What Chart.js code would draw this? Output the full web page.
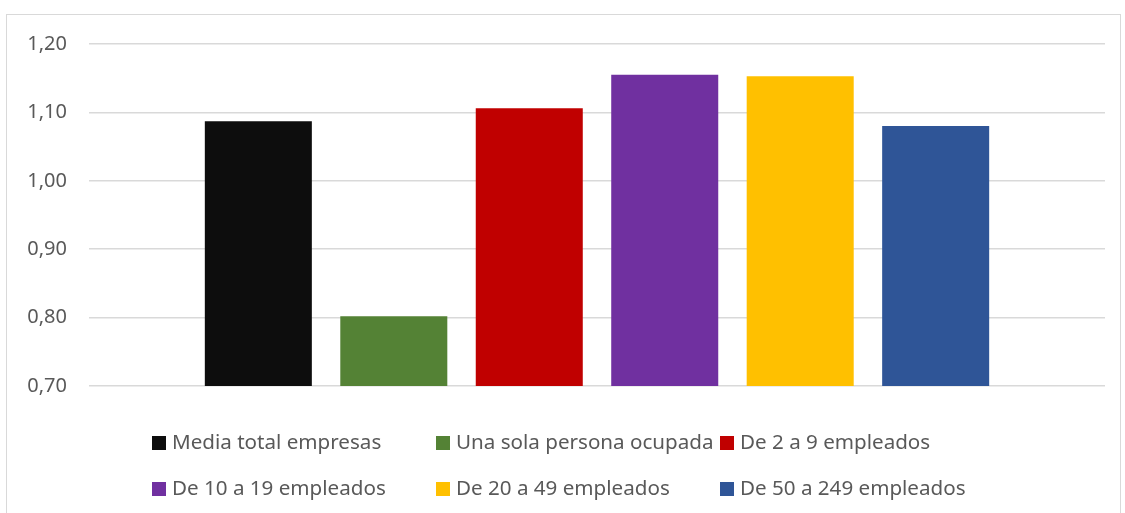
<!DOCTYPE html>
<html>
<head>
<meta charset="utf-8">
<script src="https://cdn.jsdelivr.net/npm/chart.js@4.4.1/dist/chart.umd.min.js"></script>
<style>
    html, body { margin: 0; padding: 0; background: #fff; }
    #wrap { position: relative; width: 1125px; height: 513px; overflow: hidden; }
    #frame { position: absolute; left: 6px; top: 14px; width: 1115px; height: 520px; border: 1px solid #d9d9d9; box-sizing: border-box; }
    #chart { position: absolute; left: 0; top: 0; }
    .leg { position: absolute; font-family: "Noto Sans", sans-serif; font-size: 20.6px; color: #595959; white-space: nowrap; line-height: 20px; }
    .leg span.box { display: inline-block; width: 14px; height: 14px; margin-right: 6px; vertical-align: -1px; }
</style>
</head>
<body>
<div id="wrap">
    <div id="frame"></div>
    <canvas id="chart" width="1125" height="513"></canvas>
</div>
<script>
var seriesNames = ["Media total empresas", "Una sola persona ocupada", "De 2 a 9 empleados",
                   "De 10 a 19 empleados", "De 20 a 49 empleados", "De 50 a 249 empleados"];
var seriesValues = [1.087, 0.802, 1.106, 1.155, 1.153, 1.080];
var seriesColors = ["#0d0d0d", "#548235", "#c00000", "#7030a0", "#ffc000", "#2f5597"];
var categories = [""];

function buildDatasets() {
    var ds = [];
    for (var i = 0; i < seriesNames.length; i++) {
        ds.push({
            label: seriesNames[i],
            data: [seriesValues[i]],
            backgroundColor: seriesColors[i],
            borderWidth: 0,
            categoryPercentage: 0.8,
            barPercentage: 0.79
        });
    }
    return ds;
}

var ctx = document.getElementById("chart");
var chart = new Chart(ctx, {
    type: 'bar',
    data: {
        labels: categories,
        datasets: buildDatasets()
    },
    options: {
        responsive: false,
        animation: false,
        layout: { padding: { left: 0, top: 44, right: 20, bottom: 127 } },
        plugins: {
            legend: { display: false },
            tooltip: { enabled: false }
        },
        scales: {
            x: { display: false },
            y: {
                min: 0.7,
                max: 1.2,
                border: { display: false },
                grid: { color: "#d9d9d9", lineWidth: 1.5, drawTicks: false },
                ticks: {
                    stepSize: 0.1,
                    padding: 22,
                    color: "#595959",
                    font: { family: "Noto Sans", size: 20 },
                    callback: function(v) { return v.toFixed(2).replace('.', ','); }
                },
                afterFit: function(scale) { scale.width = 89; }
            }
        }
    }
});

// legend laid out in aligned columns like the original
var legX = [152, 436, 720];
var legY = [431, 477];
var wrap = document.getElementById("wrap");
for (var i = 0; i < seriesNames.length; i++) {
    var el = document.createElement("div");
    el.className = "leg";
    el.style.left = legX[i % 3] + "px";
    el.style.top = legY[Math.floor(i / 3)] + "px";
    el.innerHTML = '<span class="box" style="background:' + seriesColors[i] + '"></span>';
    el.appendChild(document.createTextNode(seriesNames[i]));
    wrap.appendChild(el);
}
</script>
</body>
</html>
